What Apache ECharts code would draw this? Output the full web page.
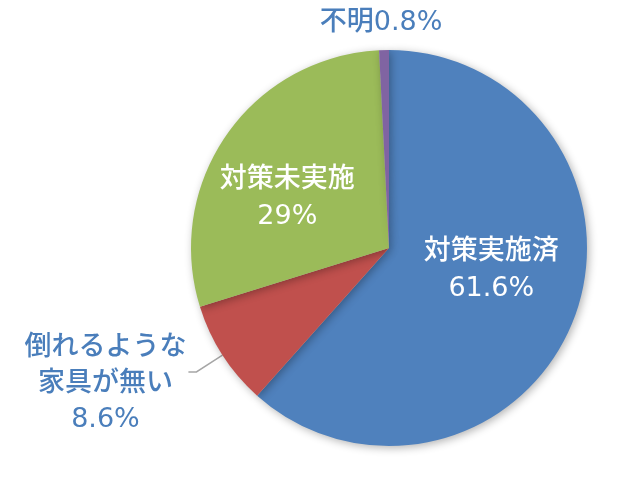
<!DOCTYPE html>
<html>
<head>
<meta charset="utf-8">
<script src="https://cdn.jsdelivr.net/npm/echarts@6/dist/echarts.min.js"></script>
<style>html,body{margin:0;padding:0;background:#fff;}#c{width:643px;height:477px;}</style>
</head>
<body>
<div id="c"></div>
<script>
const categories = ['対策実施済', '倒れるような\n家具が無い', '対策未実施', '不明'];
const values = [61.6, 8.6, 29, 0.8];
const valueLabels = ['61.6%', '8.6%', '29%', '0.8%'];
const colors = ['#4F81BD', '#C0504D', '#9BBB59', '#8064A2'];

const FONT = '"DejaVu Sans", "Noto Sans CJK JP", sans-serif';
const labelBlue = '#4A7EBB';

const itemLabels = [
  { position: 'inside', color: '#fff', offset: [7, -14], formatter: (p) => p.name + '\n' + valueLabels[p.dataIndex] },
  { position: 'outside', color: labelBlue, offset: [3, 12], formatter: (p) => '{c|' + p.name.split('\n').join('}\n{c|') + '}\n{c|' + valueLabels[p.dataIndex] + '}' },
  { position: 'inside', color: '#fff', offset: [-18, 9], formatter: (p) => p.name + '\n' + valueLabels[p.dataIndex] },
  { position: 'outside', color: labelBlue, offset: [64, 0], formatter: (p) => p.name + valueLabels[p.dataIndex] }
];
const itemLines = [
  { show: false },
  { show: true, length: 31, length2: 8, lineStyle: { color: '#A6A6A6', width: 1.5 } },
  { show: false },
  { show: false, length: 27, length2: 0 }
];

const data = categories.map((name, i) => ({
  name: name,
  value: values[i],
  itemStyle: { color: colors[i] },
  label: itemLabels[i],
  labelLine: itemLines[i]
}));

const chart = echarts.init(document.getElementById('c'));
chart.setOption({
  animation: false,
  series: [{
    type: 'pie',
    center: [389, 248],
    radius: [0, 198],
    startAngle: 90,
    clockwise: true,
    avoidLabelOverlap: false,
    itemStyle: {
      borderWidth: 0,
      shadowBlur: 8,
      shadowColor: 'rgba(0,0,0,0.3)',
      shadowOffsetX: 2,
      shadowOffsetY: 2
    },
    label: {
      fontFamily: FONT,
      fontSize: 27,
      fontWeight: 500,
      lineHeight: 37,
      align: 'center',
      rich: { c: { fontFamily: FONT, fontSize: 27, fontWeight: 500, lineHeight: 36, color: labelBlue, align: 'center' } }
    },
    emphasis: { disabled: true },
    data: data
  }]
});
</script>
</body>
</html>
